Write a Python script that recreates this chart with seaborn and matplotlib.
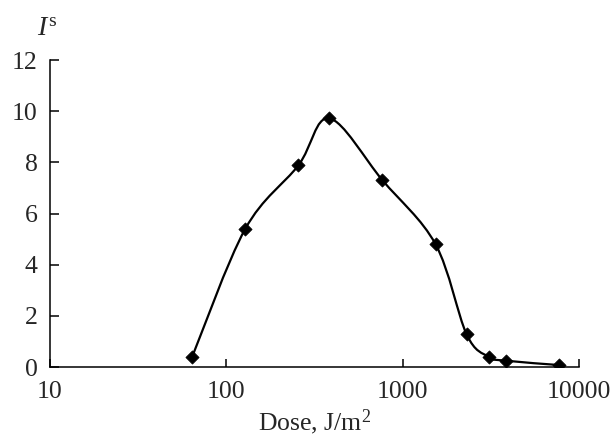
import numpy as np
import matplotlib
matplotlib.use("Agg")
import matplotlib.pyplot as plt
from matplotlib.path import Path
from matplotlib.patches import PathPatch
import seaborn as sns
import pandas as pd

# values
dose = [64, 128, 256, 384, 768, 1536, 2304, 3072, 3840, 7680]
intensity = [0.4, 5.4, 7.88, 9.72, 7.3, 4.8, 1.28, 0.4, 0.25, 0.08]
x_ticks = [10, 100, 1000, 10000]
y_ticks = [0, 2, 4, 6, 8, 10, 12]

sns.set_style("white")
plt.rcParams['font.family'] = ['Liberation Serif', 'DejaVu Serif']
plt.rcParams['mathtext.fontset'] = 'custom'
plt.rcParams['mathtext.rm'] = 'Liberation Serif'
plt.rcParams['mathtext.it'] = 'Liberation Serif:italic'

fig = plt.figure(figsize=(6.15, 4.37), dpi=100)
ax = fig.add_axes([0.0813, 0.160, 0.8602, 0.7027])

df = pd.DataFrame({'dose': dose, 'I': intensity})

# smooth curve (Excel-like smoothing), control points computed in log-x space
lx = np.log10(df['dose'].values)
yy = df['I'].values
n = len(lx)
verts = [(10 ** lx[0], yy[0])]
codes = [Path.MOVETO]
for i in range(n - 1):
    p0 = np.array([lx[max(i - 1, 0)], yy[max(i - 1, 0)]])
    p1 = np.array([lx[i], yy[i]])
    p2 = np.array([lx[i + 1], yy[i + 1]])
    p3 = np.array([lx[min(i + 2, n - 1)], yy[min(i + 2, n - 1)]])
    c1 = p1 + (p2 - p0) / 6
    c2 = p2 - (p3 - p1) / 6
    for c in (c1, c2, p2):
        verts.append((10 ** c[0], c[1]))
        codes.append(Path.CURVE4)
ax.set_xscale('log')
ax.add_patch(PathPatch(Path(verts, codes), facecolor='none', edgecolor='black', lw=1.6, zorder=2))

sns.scatterplot(data=df, x='dose', y='I', marker='D', s=45, color='black',
                edgecolor='black', ax=ax, zorder=3)

ax.set_xlim(10, 10000)
ax.set_ylim(0, 12)
ax.set_xticks(x_ticks)
ax.set_xticklabels([str(t) for t in x_ticks])
ax.set_yticks(y_ticks)
ax.minorticks_off()
ax.tick_params(axis='x', bottom=True, direction='in', length=6, width=1.1,
               color='black', labelsize=18.5, pad=10)
ax.tick_params(axis='y', left=True, direction='in', length=6.5, width=1.1,
               color='black', labelsize=18.5, pad=9)
for s in ['top', 'right']:
    ax.spines[s].set_visible(False)
for s in ['left', 'bottom']:
    ax.spines[s].set_linewidth(1.1)
    ax.spines[s].set_color('black')

ax.set_xlabel('Dose, J/m$^2$', fontsize=18.5, labelpad=3)
ax.set_ylabel('')
ax.text(-0.025, 1.06, r'$I^{\mathrm{s}}$', transform=ax.transAxes, fontsize=20,
        ha='left', va='bottom')

fig.savefig('out.png', dpi=100)
